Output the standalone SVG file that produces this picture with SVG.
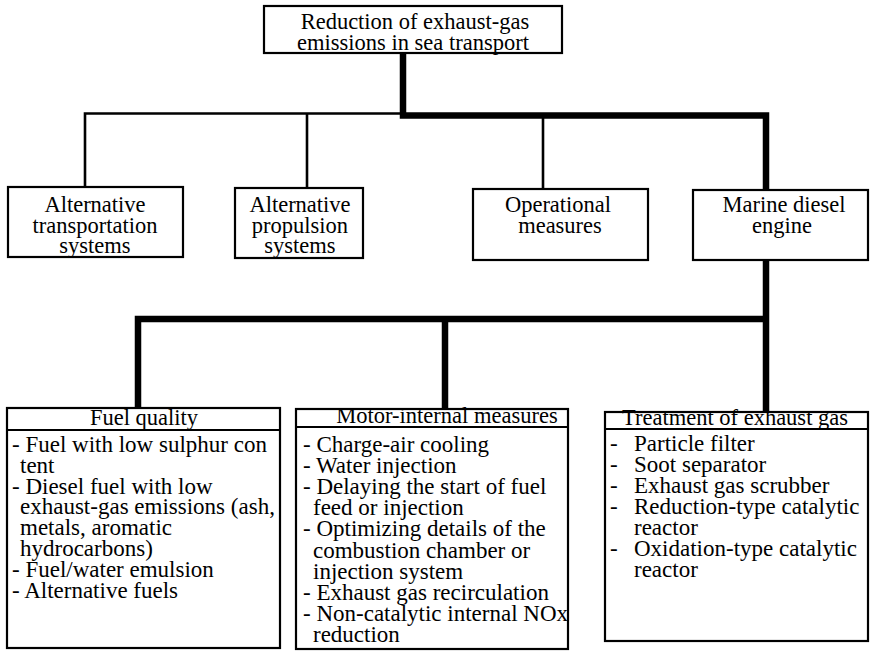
<svg xmlns="http://www.w3.org/2000/svg" width="873" height="652" viewBox="0 0 873 652" font-family="Liberation Serif, Tinos, DejaVu Serif, serif">
<style>
.box{fill:#fff;stroke:#000;stroke-width:2.2}
.sep{stroke:#000;stroke-width:2}
.thin{fill:none;stroke:#000;stroke-width:2.6}
.thick{fill:none;stroke:#000;stroke-width:6.5;stroke-linejoin:miter}
text{font-family:'Liberation Serif',Tinos,'DejaVu Serif',serif;fill:#000}
.t{font-size:22.5px;text-anchor:middle}
.l{font-size:23px}
</style>
<rect width="873" height="652" fill="#fff"/>
<g id="connectors">
<path class="thin" d="M85,187 V113.5 H403"/>
<path class="thin" d="M307,113.5 V188"/>
<path class="thin" d="M543,113.5 V189"/>
<path class="thick" d="M403,53 V115.5 H766 V190"/>
<path class="thick" d="M766,260 V412"/>
<path class="thick" d="M138,408 V319 H766"/>
<path class="thick" d="M445,319 V409"/>
</g>
<g id="root">
<rect class="box" x="264" y="6" width="298" height="47"/>
<text class="t" x="415" y="29">Reduction of exhaust-gas</text>
<text class="t" x="413" y="49.5">emissions in sea transport</text>
</g>
<g id="alt-transport">
<rect class="box" x="8" y="187" width="175" height="70"/>
<text class="t" x="95" y="212">Alternative</text>
<text class="t" x="95" y="232.5">transportation</text>
<text class="t" x="95" y="253">systems</text>
</g>
<g id="alt-propulsion">
<rect class="box" x="235" y="188" width="128" height="70"/>
<text class="t" x="300" y="212">Alternative</text>
<text class="t" x="300" y="232.5">propulsion</text>
<text class="t" x="300" y="253">systems</text>
</g>
<g id="operational">
<rect class="box" x="473" y="189" width="175" height="71"/>
<text class="t" x="558" y="212">Operational</text>
<text class="t" x="560" y="233">measures</text>
</g>
<g id="marine-diesel">
<rect class="box" x="693" y="190" width="175" height="70"/>
<text class="t" x="784" y="212">Marine diesel</text>
<text class="t" x="782" y="233">engine</text>
</g>
<g id="fuel-quality">
<rect class="box" x="7" y="408" width="273" height="240"/>
<line class="sep" x1="7" y1="430" x2="280" y2="430"/>
<text class="t" x="144" y="425">Fuel quality</text>
<text class="l" x="12" y="452">- Fuel with low sulphur con</text>
<text class="l" x="20" y="472.8">tent</text>
<text class="l" x="12" y="493.6">- Diesel fuel with low</text>
<text class="l" x="20" y="514.4">exhaust-gas emissions (ash,</text>
<text class="l" x="20" y="535.2">metals, aromatic</text>
<text class="l" x="20" y="556">hydrocarbons)</text>
<text class="l" x="12" y="576.8">- Fuel/water emulsion</text>
<text class="l" x="12" y="597.6">- Alternative fuels</text>
</g>
<g id="motor-internal">
<rect class="box" x="296" y="409" width="272" height="240"/>
<line class="sep" x1="296" y1="427" x2="568" y2="427"/>
<text class="t" x="447" y="423">Motor-internal measures</text>
<text class="l" x="303" y="452">- Charge-air cooling</text>
<text class="l" x="303" y="473">- Water injection</text>
<text class="l" x="303" y="494">- Delaying the start of fuel</text>
<text class="l" x="313" y="515">feed or injection</text>
<text class="l" x="303" y="536">- Optimizing details of the</text>
<text class="l" x="313" y="557.5">combustion chamber or</text>
<text class="l" x="313" y="578.6">injection system</text>
<text class="l" x="303" y="599.7">- Exhaust gas recirculation</text>
<text class="l" x="303" y="620.8">- Non-catalytic internal NOx</text>
<text class="l" x="313" y="642">reduction</text>
</g>
<g id="exhaust-treatment">
<rect class="box" x="605" y="412" width="263" height="229"/>
<line class="sep" x1="605" y1="429" x2="868" y2="429"/>
<text class="t" x="735" y="425">Treatment of exhaust gas</text>
<text class="l" x="610" y="451">-</text><text class="l" x="634" y="451">Particle filter</text>
<text class="l" x="610" y="472">-</text><text class="l" x="634" y="472">Soot separator</text>
<text class="l" x="610" y="493">-</text><text class="l" x="634" y="493">Exhaust gas scrubber</text>
<text class="l" x="610" y="514">-</text><text class="l" x="634" y="514">Reduction-type catalytic</text>
<text class="l" x="634" y="534.5">reactor</text>
<text class="l" x="610" y="555.5">-</text><text class="l" x="634" y="555.5">Oxidation-type catalytic</text>
<text class="l" x="634" y="576.5">reactor</text>
</g>
</svg>
